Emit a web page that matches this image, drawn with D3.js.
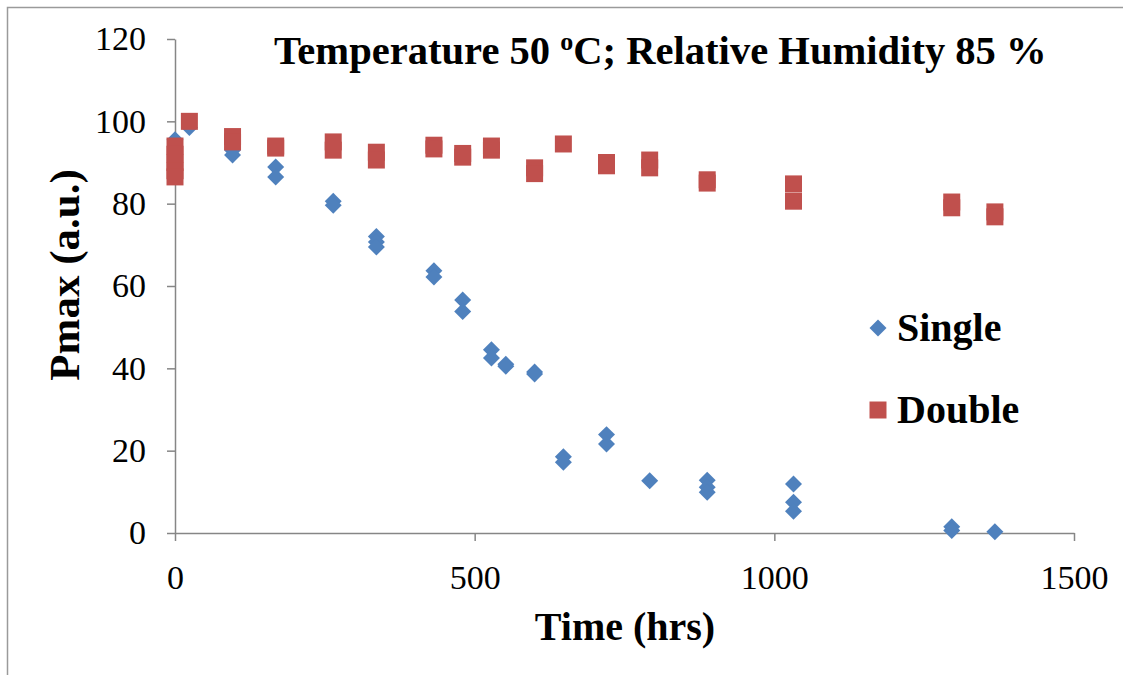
<!DOCTYPE html>
<html>
<head>
<meta charset="utf-8">
<script src="https://cdn.jsdelivr.net/npm/d3@7"></script>
<style>
  body { margin: 0; background: #fff; }
  svg { display: block; font-family: "Liberation Serif", "Times New Roman", serif; }
  .axis path, .axis line { stroke: #868686; stroke-width: 1.5; }
  .axis text { font-size: 34px; fill: #000; font-family: "Liberation Serif", "Times New Roman", serif; }
</style>
</head>
<body>
<div id="chart"></div>
<script>
// Hours at each reading, and Pmax values (a.u.)
const singleTime  = [0, 24, 96, 96, 168, 168, 264, 264, 336, 336, 336, 432, 432, 480, 480, 528, 528, 552, 552, 600, 600, 648, 648, 720, 720, 792, 888, 888, 888, 1032, 1032, 1032, 1296, 1296, 1368];
const singleValue = [95.5, 98.5, 93, 91.8, 88.9, 86.5, 80.6, 79.6, 72, 70.7, 69.5, 63.7, 62.2, 56.6, 53.8, 44.5, 42.5, 41.0, 40.5, 39.1, 38.6, 18.5, 17.2, 23.9, 21.6, 12.7, 12.8, 11.1, 9.9, 11.9, 7.5, 5.3, 1.5, 0.6, 0.3];

const doubleTime  = [0, 0, 0, 0, 0, 24, 96, 96, 168, 168, 264, 264, 336, 336, 432, 432, 480, 480, 528, 528, 600, 600, 648, 720, 720, 792, 792, 888, 888, 1032, 1032, 1296, 1296, 1368, 1368];
const doubleValue = [94, 92, 90, 88, 86.5, 100, 96.3, 95, 94, 93.5, 95, 93, 92.5, 90.6, 94.2, 93.3, 92.2, 91.3, 94, 93, 88.7, 87.3, 94.5, 90, 89.2, 90.6, 88.7, 85.8, 85, 84.8, 80.6, 80.4, 79, 78, 76.8];

const xTicks = [0, 500, 1000, 1500];
const yTicks = [0, 20, 40, 60, 80, 100, 120];

const seriesNames = ['Single', 'Double'];
const seriesColors = ['#4F81BD', '#C0504D'];

const width = 1123;
const height = 675;
const margin = { top: 39, right: 49, bottom: 142, left: 175 };

const usableArea = {
  top: margin.top,
  right: width - margin.right,
  bottom: height - margin.bottom,
  left: margin.left,
};

const svg = d3.select('#chart')
  .append('svg')
  .attr('width', width)
  .attr('height', height);

// outer chart frame (runs off the right and bottom)
svg.append('rect')
  .attr('x', 7.5).attr('y', 7.5)
  .attr('width', width + 20).attr('height', height + 20)
  .attr('fill', 'none')
  .attr('stroke', '#9a9a9a')
  .attr('stroke-width', 1.5);

const xScale = d3.scaleLinear()
  .domain([0, 1500])
  .range([usableArea.left, usableArea.right]);

const yScale = d3.scaleLinear()
  .domain([0, 120])
  .range([usableArea.bottom, usableArea.top]);

// axes
svg.append('g')
  .attr('class', 'axis')
  .attr('transform', `translate(${usableArea.left}, 0)`)
  .call(d3.axisLeft(yScale).tickValues(yTicks).tickSize(8).tickPadding(21).tickSizeOuter(0))
  .selectAll('text')
  .attr('dy', '0.32em');

svg.append('g')
  .attr('class', 'axis')
  .attr('transform', `translate(0, ${usableArea.bottom})`)
  .call(d3.axisBottom(xScale).tickValues(xTicks).tickFormat(d3.format('d'))
    .tickSize(8).tickPadding(24).tickSizeOuter(0));

const diamond = d3.symbol(d3.symbolSquare, 144);
const square = d3.symbol(d3.symbolSquare, 289);

// Single first, Double drawn on top
svg.append('g')
  .selectAll('path')
  .data(d3.zip(singleTime, singleValue))
  .join('path')
  .attr('d', diamond)
  .attr('transform', (d) => `translate(${xScale(d[0])}, ${yScale(d[1])}) rotate(45)`)
  .attr('fill', seriesColors[0]);

svg.append('g')
  .selectAll('path')
  .data(d3.zip(doubleTime, doubleValue))
  .join('path')
  .attr('d', square)
  .attr('transform', (d) => `translate(${xScale(d[0])}, ${yScale(d[1])})`)
  .attr('fill', seriesColors[1]);

// title
const title = svg.append('text')
  .attr('x', 274)
  .attr('y', 64)
  .attr('font-size', 40.6)
  .attr('font-weight', 'bold');
title.append('tspan').text('Temperature 50 ');
title.append('tspan').attr('font-size', 26).attr('dy', -14).text('o');
title.append('tspan').attr('dy', 14).text('C; Relative Humidity 85 %');

// axis titles
svg.append('text')
  .attr('x', 625)
  .attr('y', 640)
  .attr('text-anchor', 'middle')
  .attr('font-size', 40)
  .attr('font-weight', 'bold')
  .text('Time (hrs)');

svg.append('text')
  .attr('transform', 'translate(79, 275) rotate(-90)')
  .attr('text-anchor', 'middle')
  .attr('font-size', 43)
  .attr('font-weight', 'bold')
  .text('Pmax (a.u.)');

// legend
const legend = svg.append('g');
const legendY = [328, 410];
legend.append('path')
  .attr('d', diamond)
  .attr('transform', `translate(878, ${legendY[0]}) rotate(45)`)
  .attr('fill', seriesColors[0]);
legend.append('path')
  .attr('d', square)
  .attr('transform', `translate(878, ${legendY[1]})`)
  .attr('fill', seriesColors[1]);
legend.selectAll('text')
  .data(seriesNames)
  .join('text')
  .attr('x', 897)
  .attr('y', (d, i) => legendY[i] + 13)
  .attr('font-size', 40)
  .attr('font-weight', 'bold')
  .text((d) => d);
</script>
</body>
</html>
